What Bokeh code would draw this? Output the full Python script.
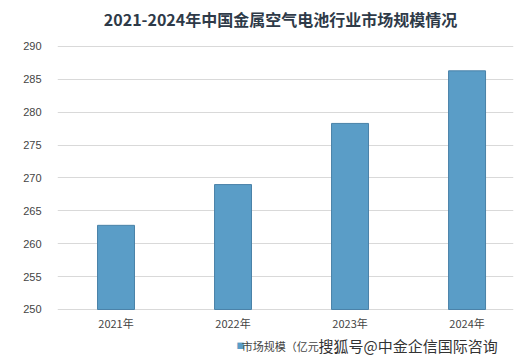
from bokeh.plotting import figure
from bokeh.models import ColumnDataSource, Label, FixedTicker
from bokeh.core.properties import value
from bokeh.embed import file_html
from bokeh.resources import INLINE

years = ["2021年", "2022年", "2023年", "2024年"]
values = [262.8, 269.0, 278.3, 286.3]
y_ticks = [250, 255, 260, 265, 270, 275, 280, 285, 290]
title_text = "2021-2024年中国金属空气电池行业市场规模情况"
legend_text = "市场规模（亿元"
watermark = "搜狐号@中金企信国际咨询"

idx = list(range(len(years)))
src = ColumnDataSource(dict(x=idx, top=values, label=years))

# frame spans whole height; value axis 250..290 maps to pixels 46..309
p = figure(width=517, height=363, output_backend="svg", toolbar_location=None,
           x_range=(-0.5, 3.397), y_range=(241.787, 296.996),
           min_border_left=57, min_border_right=4, min_border_top=0, min_border_bottom=0)

p.vbar(x="x", top="top", bottom=250, width=0.316, source=src,
       fill_color="#5a9dc7", line_color="#4a82a8", line_width=1)

# category labels under the bars
p.text(x="x", y=248.0, text="label", source=src, text_align="center", text_baseline="middle",
       text_font=value("Noto Sans CJK SC"), text_font_size="11px", text_color="#444444")

p.xaxis.visible = False
p.yaxis.ticker = FixedTicker(ticks=y_ticks)
p.yaxis.axis_line_color = None
p.yaxis.major_tick_line_color = None
p.yaxis.minor_tick_line_color = None
p.yaxis.major_label_text_font = "Liberation Sans"
p.yaxis.major_label_text_font_size = "11px"
p.yaxis.major_label_text_color = "#444444"
p.yaxis.major_label_standoff = 10

p.xgrid.grid_line_color = None
p.ygrid.grid_line_color = "#d9d9d9"
p.ygrid.grid_line_width = 1
p.outline_line_color = None
p.background_fill_color = "white"
p.border_fill_color = "white"

p.add_layout(Label(x=1.406, y=294.25, text=title_text, text_align="center", text_baseline="middle",
                   text_font="Noto Sans CJK SC", text_font_size="16px", text_font_style="bold",
                   text_color="#2e3a48"))
p.add_layout(Label(x=1.03, y=244.5, text="■", text_font_size="8px", text_color="#5a9dc7",
                   text_baseline="middle", text_font="Noto Sans CJK SC"))
p.add_layout(Label(x=1.075, y=244.5, text=legend_text, text_font_size="11px", text_color="#444444",
                   text_baseline="middle", text_font="Noto Sans CJK SC"))
p.add_layout(Label(x=1.73, y=244.5, text=watermark, text_font_size="15px", text_color="#333333",
                   text_baseline="middle", text_font="Noto Sans CJK SC"))

open("out.html", "w").write(file_html(p, INLINE))
